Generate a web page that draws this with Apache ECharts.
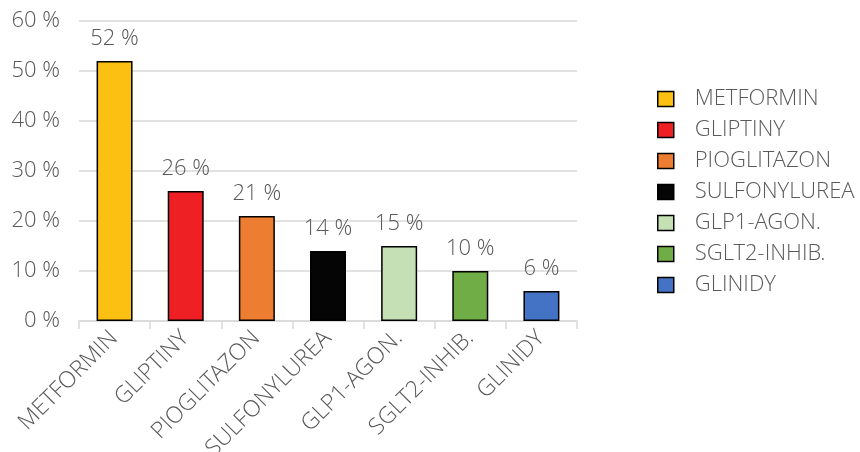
<!DOCTYPE html>
<html><head><meta charset="utf-8">
<script src="https://cdn.jsdelivr.net/npm/echarts@6/dist/echarts.min.js"></script>
<style>html,body{margin:0;padding:0;background:#fff}#c{width:860px;height:452px}</style>
</head><body><div id="c"></div>
<script>
const categories = ['METFORMIN','GLIPTINY','PIOGLITAZON','SULFONYLUREA','GLP1-AGON.','SGLT2-INHIB.','GLINIDY'];
const values = [52, 26, 21, 14, 15, 10, 6];
const colors = ['#FBC012','#EE2024','#ED7D31','#050505','#C5E0B4','#70AD47','#4472C4'];
const yTicks = [0, 10, 20, 30, 40, 50, 60];

const font = '"Open Sans Light", "Open Sans", "Noto Sans", sans-serif';
const series = categories.map((name, i) => ({
  name: name,
  type: 'bar',
  barGap: '-100%',
  barWidth: 36,
  data: categories.map((c, j) => j === i ? values[j] : '-'),
  itemStyle: { color: colors[i], borderColor: '#000', borderWidth: 1.5 },
  label: { show: true, position: 'top', distance: 11, formatter: '{c} %', color: '#595959', fontSize: 22, fontFamily: font, fontWeight: 300 }
}));

const chart = echarts.init(document.getElementById('c'), null, { renderer: 'canvas' });
chart.setOption({
  animation: false,
  color: colors,
  grid: { left: 79, right: 283, top: 21, bottom: 131, containLabel: false, outerBoundsMode: 'none' },
  legend: {
    orient: 'vertical', left: 657, top: 88, padding: 0, itemGap: 9, itemWidth: 16, itemHeight: 15,
    icon: 'rect',
    itemStyle: { borderColor: '#000', borderWidth: 1.5 },
    textStyle: { color: '#595959', fontSize: 22, fontFamily: font, fontWeight: 300, padding: [0,0,0,16] },
    data: categories
  },
  xAxis: {
    type: 'category', data: categories,
    axisLine: { lineStyle: { color: '#d9d9d9', width: 1.5 } },
    axisTick: { show: true, length: 8, lineStyle: { color: '#d9d9d9', width: 1.5 } },
    axisLabel: { rotate: 45, color: '#595959', fontSize: 23, fontFamily: font, fontWeight: 300, margin: 14, interval: 0 }
  },
  yAxis: {
    type: 'value', min: yTicks[0], max: yTicks[yTicks.length-1], interval: 10,
    axisLine: { show: false }, axisTick: { show: false },
    splitLine: { lineStyle: { color: '#d9d9d9', width: 1.5 } },
    axisLabel: { formatter: '{value} %', color: '#595959', fontSize: 22, fontFamily: font, fontWeight: 300, margin: 19 }
  },
  series: series
});
</script></body></html>
